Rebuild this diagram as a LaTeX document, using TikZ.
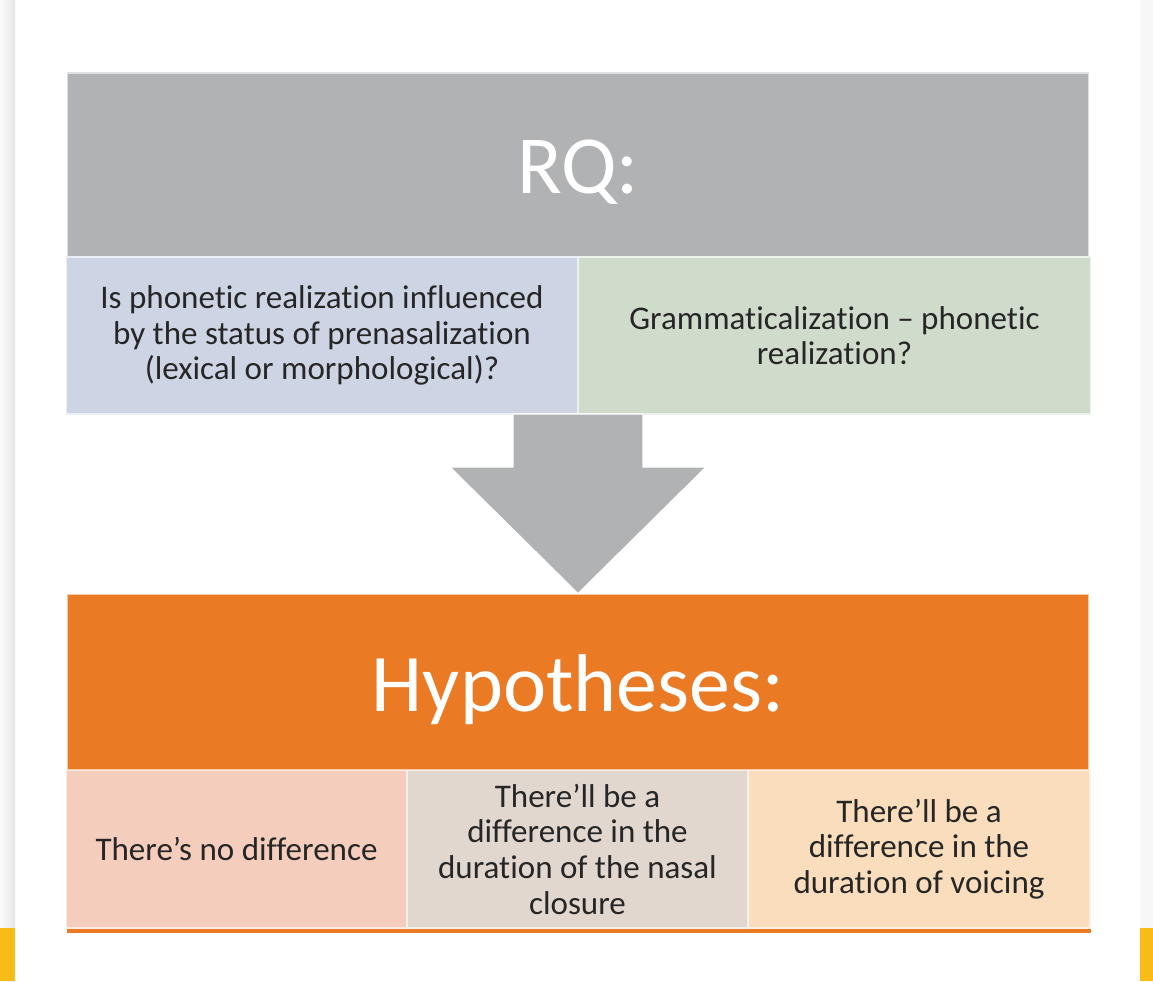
\documentclass[tikz,border=0pt]{standalone}
\usepackage{fontspec}
\setmainfont{Carlito}[Ligatures=NoCommon,RawFeature=-liga]
\definecolor{rqgray}{HTML}{B1B2B4}
\definecolor{rqblue}{HTML}{CDD5E5}
\definecolor{rqgreen}{HTML}{D0DCCB}
\definecolor{hyorange}{HTML}{EB7A24}
\definecolor{hypink}{HTML}{F5CDBD}
\definecolor{hybeige}{HTML}{E1D7CE}
\definecolor{hypeach}{HTML}{FADDBC}
\definecolor{txt}{HTML}{262626}
\definecolor{edgeyellow}{HTML}{F8BC17}
\begin{document}
\begin{tikzpicture}[x=0.02cm,y=-0.02cm]
\tikzstyle{bx} = [rectangle,inner sep=0pt,align=center,draw=white!60!#1,fill=#1,line width=0.6pt] %box
\tikzstyle{hd} = [text=white,font=\fontsize{47}{52}\selectfont,text depth=0pt] %heading
\tikzstyle{tx} = [text=txt,font=\fontsize{18.8}{20.3}\selectfont] %body text
\useasboundingbox (0,0) rectangle (1153,981);
\fill[white] (0,0) rectangle (1153,981);
% page edges
\shade[left color=gray!3,right color=gray!20] (0,0) rectangle (15,981);
\fill[gray!6] (1140,0) rectangle (1153,981);
\fill[edgeyellow] (0,928) rectangle (15,981);
\fill[edgeyellow] (1140,928) rectangle (1153,981);
% research question
\node[bx=rqgray,hd,text height=32pt,minimum width=20.44cm,minimum height=3.68cm](rq)at(578,165){RQ:};
\node[bx=rqblue,tx,minimum width=10.24cm,minimum height=3.14cm](qa)at(322,335.5)
  {Is phonetic realization influenced\\by the status of prenasalization\\(lexical or morphological)?};
\node[bx=rqgreen,tx,minimum width=10.26cm,minimum height=3.14cm](qb)at(834.5,335.5)
  {Grammaticalization -- phonetic\\realization?};
% hypotheses
\node[bx=hyorange,hd,font=\fontsize{46.6}{52}\selectfont,text height=34pt,minimum width=20.44cm,minimum height=3.52cm](hy)at(578,682){Hypotheses:};
\node[bx=hypink,tx,minimum width=6.82cm,minimum height=3.16cm](ha)at(236.5,849){There’s no difference};
\node[bx=hybeige,tx,minimum width=6.82cm,minimum height=3.16cm](hb)at(577.5,849)
  {There’ll be a\\difference in the\\duration of the nasal\\closure};
\node[bx=hypeach,tx,minimum width=6.84cm,minimum height=3.16cm](hc)at(919,849)
  {There’ll be a\\difference in the\\duration of voicing};
\fill[hyorange] (ha.south west) ++(1,0) rectangle ([yshift=-0.08cm]hc.south east);
% arrow
\fill[rqgray,draw=white,line width=0.6pt] (513,414) -- (643,414) -- (643,467) -- (706,467)
  -- (hy.north) -- (450,467) -- (513,467) -- cycle;
\end{tikzpicture}
\end{document}
